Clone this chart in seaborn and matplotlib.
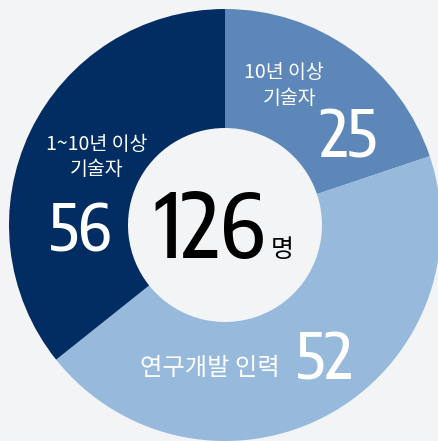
import matplotlib
matplotlib.use("Agg")
import matplotlib.pyplot as plt
from matplotlib import font_manager as fm
from matplotlib.ft2font import FT2Font
import seaborn as sns

# Data
slice_names = ["10년 이상 기술자", "연구개발 인력", "1~10년 이상 기술자"]
slice_values = [25, 56, 45]          # angular shares as drawn in the reference
label_values = ["25", "52", "56"]     # numbers printed on the slices
total_label = "126"
unit_label = "명"
colors = ["#5e87b9", "#96b9dc", "#012d62"]

sns.set_theme(style="white")
bg = "#f3f4f6"
plt.rcParams['font.family'] = ['Noto Sans CJK KR', 'DejaVu Sans']

DPI = 100


def pick_condensed():
    tl = fm.fontManager.ttflist
    for nm in ["Encode Sans Condensed", "Roboto Condensed", "Barlow Condensed", "Archivo Narrow"]:
        for wts in ((500, "medium"), (400, "normal", "regular")):
            for f in tl:
                if f.name == nm and f.style == "normal" and f.weight in wts:
                    return f.fname
    return fm.findfont(fm.FontProperties(family="DejaVu Sans"))


numpath = pick_condensed()


def size_for_height(px):
    ft = FT2Font(numpath)
    ft.set_size(100, DPI)
    ft.set_text("1")
    h = ft.get_width_height()[1] / 64.0
    return 100.0 * px / h


fig = plt.figure(figsize=(4.39, 4.41), dpi=DPI, facecolor=bg)
ax = fig.add_axes([0, 0, 1, 1])
ax.set_facecolor(bg)
H = 441
cx, cy, R, r = 225, H - 225, 216, 97
ax.pie(slice_values, colors=colors, center=(cx, cy), radius=R, startangle=90,
       counterclock=False, wedgeprops=dict(width=R - r, linewidth=0))
ax.set_xlim(0, 439)
ax.set_ylim(0, H)
ax.set_aspect("equal")
ax.axis("off")


def Y(y):
    return H - y


def num(x, y, s, height_px, color="white"):
    fp = fm.FontProperties(fname=numpath, size=size_for_height(height_px))
    ax.text(x, Y(y), s, fontproperties=fp, color=color, ha="center", va="baseline")


def kor(x, y, s, size, color="white", ha="center"):
    ax.text(x, Y(y), s, fontsize=size, color=color, ha=ha, va="baseline",
            family=['Noto Sans CJK KR', 'DejaVu Sans'])


# labels of slice 1
kor(284, 78, "10년 이상", 14)
kor(290, 104, "기술자", 14)
num(348.5, 157, label_values[0], 48)
# labels of slice 3
kor(96.5, 150, "1~10년 이상", 14)
kor(96.5, 175, "기술자", 14)
num(80, 252, label_values[2], 48)
# labels of slice 2
kor(210, 375, "연구개발 인력", 17.5)
num(324.5, 380, label_values[1], 47)
# centre total
num(210, 258, total_label, 65, color="black")
kor(282.5, 257, unit_label, 18, color="black")

fig.savefig("out.png", dpi=DPI, facecolor=bg)
